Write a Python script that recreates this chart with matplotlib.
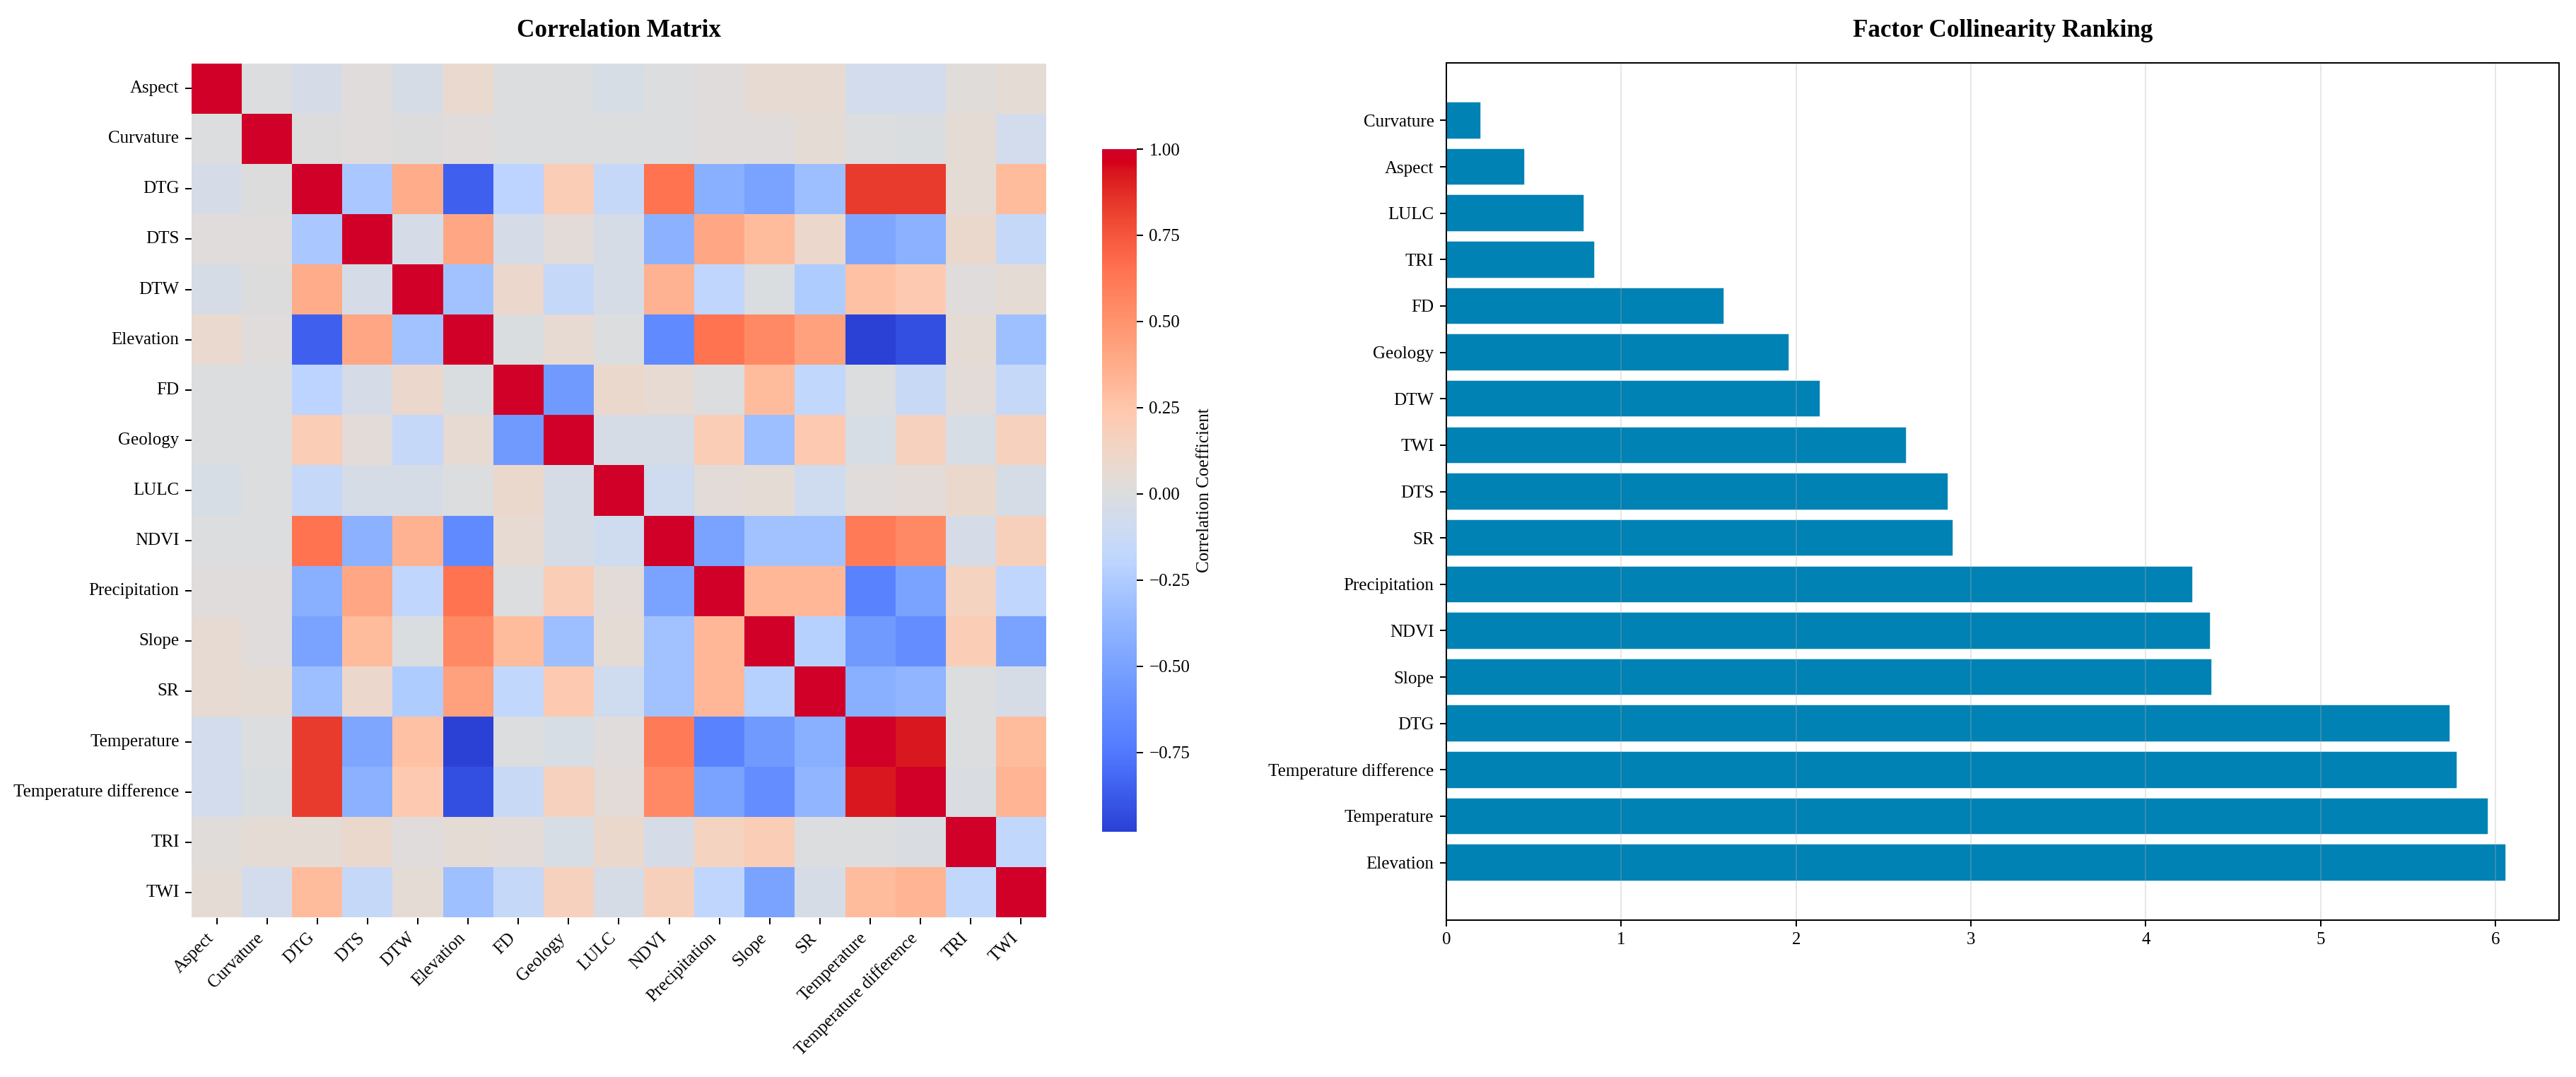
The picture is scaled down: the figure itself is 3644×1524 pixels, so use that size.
import matplotlib
matplotlib.use("Agg")
import matplotlib.pyplot as plt
import numpy as np
import pandas as pd
import seaborn as sns
from matplotlib.colors import ListedColormap, hsv_to_rgb, rgb_to_hsv


FACTORS = [
    "Aspect", "Curvature", "DTG", "DTS", "DTW", "Elevation", "FD", "Geology",
    "LULC", "NDVI", "Precipitation", "Slope", "SR", "Temperature",
    "Temperature difference", "TRI", "TWI",
]

# correlation values (row order = FACTORS)
aspect = [1.00, 0.00, -0.05, 0.02, -0.04, 0.08, 0.00, 0.00, -0.03, 0.00, 0.02, 0.06, 0.06, -0.07, -0.07, 0.03, 0.05]
curvature = [0.00, 1.00, 0.01, 0.02, 0.01, 0.02, 0.00, 0.00, 0.00, 0.00, 0.02, 0.02, 0.05, 0.00, -0.01, 0.05, -0.07]
dtg = [-0.05, 0.01, 1.00, -0.27, 0.38, -0.85, -0.20, 0.20, -0.15, 0.65, -0.42, -0.50, -0.33, 0.83, 0.83, 0.05, 0.30]
dts = [0.02, 0.02, -0.27, 1.00, -0.05, 0.40, -0.05, 0.04, -0.04, -0.40, 0.40, 0.30, 0.10, -0.47, -0.40, 0.09, -0.15]
dtw = [-0.04, 0.01, 0.38, -0.05, 1.00, -0.30, 0.10, -0.15, -0.04, 0.35, -0.18, -0.01, -0.25, 0.28, 0.22, 0.02, 0.05]
elevation = [0.08, 0.02, -0.85, 0.40, -0.30, 1.00, -0.01, 0.06, 0.00, -0.65, 0.65, 0.55, 0.43, -0.98, -0.92, 0.05, -0.32]
fd = [0.00, 0.00, -0.20, -0.05, 0.10, -0.01, 1.00, -0.55, 0.09, 0.07, 0.00, 0.30, -0.17, 0.00, -0.13, 0.04, -0.15]
geology = [0.00, 0.00, 0.20, 0.04, -0.15, 0.06, -0.55, 1.00, -0.04, -0.04, 0.20, -0.33, 0.22, -0.03, 0.17, -0.03, 0.17]
lulc = [-0.03, 0.00, -0.15, -0.04, -0.04, 0.00, 0.09, -0.04, 1.00, -0.09, 0.04, 0.05, -0.09, 0.02, 0.04, 0.09, -0.04]
ndvi = [0.00, 0.00, 0.65, -0.40, 0.35, -0.65, 0.07, -0.04, -0.09, 1.00, -0.50, -0.30, -0.30, 0.62, 0.55, -0.05, 0.18]
precipitation = [0.02, 0.02, -0.42, 0.40, -0.18, 0.65, 0.00, 0.20, 0.04, -0.50, 1.00, 0.32, 0.32, -0.70, -0.50, 0.15, -0.18]
slope = [0.06, 0.02, -0.50, 0.30, -0.01, 0.55, 0.30, -0.33, 0.05, -0.30, 0.32, 1.00, -0.22, -0.55, -0.63, 0.20, -0.50]
sr = [0.06, 0.05, -0.33, 0.10, -0.25, 0.43, -0.17, 0.22, -0.09, -0.30, 0.32, -0.22, 1.00, -0.42, -0.38, 0.00, -0.04]
temperature = [-0.07, 0.00, 0.83, -0.47, 0.28, -0.98, 0.00, -0.03, 0.02, 0.62, -0.70, -0.55, -0.42, 1.00, 0.93, 0.00, 0.30]
temp_diff = [-0.07, -0.01, 0.83, -0.40, 0.22, -0.92, -0.13, 0.17, 0.04, 0.55, -0.50, -0.63, -0.38, 0.93, 1.00, -0.02, 0.34]
tri = [0.03, 0.05, 0.05, 0.09, 0.02, 0.05, 0.04, -0.03, 0.09, -0.05, 0.15, 0.20, 0.00, 0.00, -0.02, 1.00, -0.17]
twi = [0.05, -0.07, 0.30, -0.15, 0.05, -0.32, -0.15, 0.17, -0.04, 0.18, -0.18, -0.50, -0.04, 0.30, 0.34, -0.17, 1.00]

# collinearity ranking, bottom bar first
RANK_FACTORS = [
    "Elevation", "Temperature", "Temperature difference", "DTG", "Slope", "NDVI",
    "Precipitation", "SR", "DTS", "TWI", "DTW", "Geology", "FD", "TRI", "LULC",
    "Aspect", "Curvature",
]
RANK_SCORES = [6.06, 5.96, 5.78, 5.74, 4.38, 4.37, 4.27, 2.90, 2.87, 2.63, 2.14, 1.96, 1.59, 0.85, 0.79, 0.45, 0.20]

BAR_COLOR = "#0082B4"

plt.rcParams["font.family"] = ["Liberation Serif", "DejaVu Serif"]
plt.rcParams["font.size"] = 10

W, H, DPI = 3644, 1524, 180


def rect(x0, y0, x1, y1):
    return [x0 / W, 1 - y1 / H, (x1 - x0) / W, (y1 - y0) / H]


def vivid_coolwarm(sat=1.15, val=0.16):
    # the source image has a punchier coolwarm than matplotlib's;
    # brighten only the saturated ends so the grey middle stays grey
    base = plt.get_cmap("coolwarm")(np.linspace(0, 1, 256))[:, :3]
    hsv = rgb_to_hsv(base)
    s0 = hsv[:, 1].copy()
    hsv[:, 1] = np.clip(s0 * sat, 0, 1)
    hsv[:, 2] = np.clip(hsv[:, 2] * (1 + val * s0), 0, 1)
    return ListedColormap(hsv_to_rgb(hsv))


corr = pd.DataFrame(
    [aspect, curvature, dtg, dts, dtw, elevation, fd, geology, lulc, ndvi,
     precipitation, slope, sr, temperature, temp_diff, tri, twi],
    index=FACTORS, columns=FACTORS,
)

fig = plt.figure(figsize=(W / DPI, H / DPI), dpi=DPI)
ax_hm = fig.add_axes(rect(271, 88, 1480, 1300))
ax_cb = fig.add_axes(rect(1559, 211, 1608, 1177))
ax_bar = fig.add_axes(rect(2046, 89, 3620, 1302))

sns.heatmap(corr, cmap=vivid_coolwarm(), square=True, ax=ax_hm, cbar_ax=ax_cb,
            cbar_kws={"label": "Correlation Coefficient"})
ax_hm.set_title("Correlation Matrix", fontsize=14, fontweight="bold", pad=15)
plt.setp(ax_hm.get_xticklabels(), rotation=45, ha="right", rotation_mode="default")
plt.setp(ax_hm.get_yticklabels(), rotation=0)
ax_cb.set_yticks([-0.75, -0.5, -0.25, 0.0, 0.25, 0.5, 0.75, 1.0])
ax_cb.tick_params(labelsize=10)

ypos = np.arange(len(RANK_FACTORS))
ax_bar.barh(ypos, RANK_SCORES, color=BAR_COLOR, edgecolor="white", linewidth=0.6)
ax_bar.set_yticks(ypos)
ax_bar.set_yticklabels(RANK_FACTORS)
ax_bar.grid(axis="x", alpha=0.3)
ax_bar.set_title("Factor Collinearity Ranking", fontsize=14, fontweight="bold", pad=15)

fig.savefig("out.png", dpi=DPI)
plt.close(fig)
